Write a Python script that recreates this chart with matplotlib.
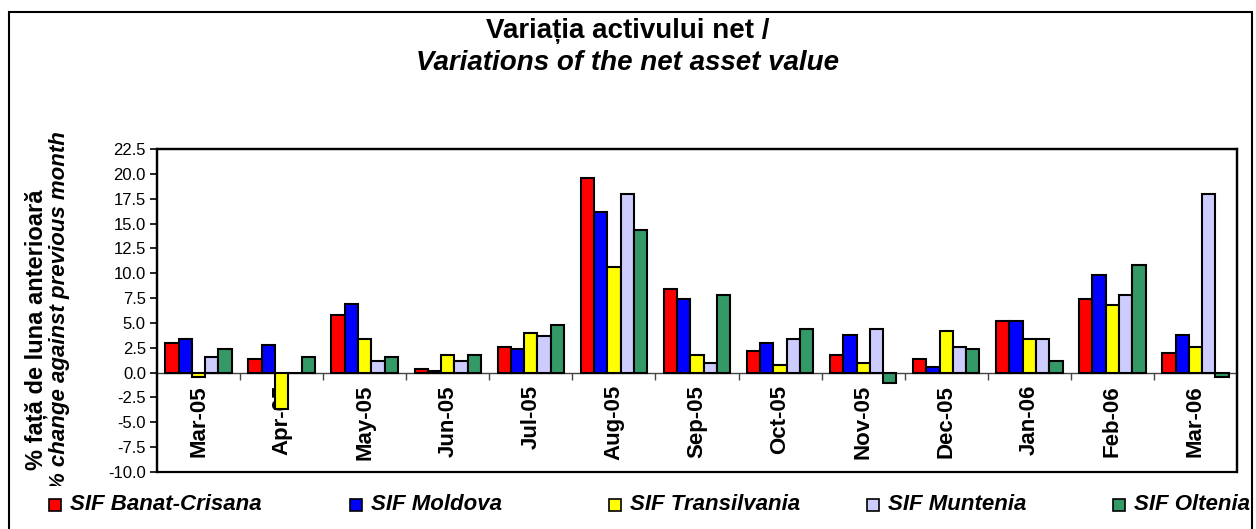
import numpy as np
import matplotlib
matplotlib.use("Agg")
import matplotlib.pyplot as plt
from matplotlib.patches import Rectangle
from matplotlib.transforms import Bbox

months = ["Mar-05", "Apr-05", "May-05", "Jun-05", "Jul-05", "Aug-05", "Sep-05",
          "Oct-05", "Nov-05", "Dec-05", "Jan-06", "Feb-06", "Mar-06"]

banat_crisana = [3.0, 1.4, 5.8, 0.4, 2.6, 19.6, 8.4, 2.2, 1.8, 1.4, 5.2, 7.4, 2.0]
moldova = [3.4, 2.8, 6.9, 0.2, 2.4, 16.2, 7.4, 3.0, 3.8, 0.6, 5.2, 9.8, 3.8]
transilvania = [-0.4, -3.7, 3.4, 1.8, 4.0, 10.6, 1.8, 0.8, 1.0, 4.2, 3.4, 6.8, 2.6]
muntenia = [1.6, 0.0, 1.2, 1.2, 3.7, 18.0, 1.0, 3.4, 4.4, 2.6, 3.4, 7.8, 18.0]
oltenia = [2.4, 1.6, 1.6, 1.8, 4.8, 14.4, 7.8, 4.4, -1.0, 2.4, 1.2, 10.8, -0.4]

series_names = ["SIF Banat-Crisana", "SIF Moldova", "SIF Transilvania",
                "SIF Muntenia", "SIF Oltenia"]
series_values = [banat_crisana, moldova, transilvania, muntenia, oltenia]
colors = ["#FF0000", "#0000FF", "#FFFF00", "#CCCCFF", "#339966"]

plt.rcParams["font.family"] = ["Liberation Sans", "DejaVu Sans"]

W, H = 1256, 529
fig = plt.figure(figsize=(W / 100, H / 100), dpi=100)
ax = fig.add_axes([157 / W, 1 - 472 / H, (1237 - 157) / W, (472 - 149) / H])

x = np.arange(len(months))
bw = 0.16
for i, (vals, c) in enumerate(zip(series_values, colors)):
    ax.bar(x + (i - 2) * bw, vals, bw, color=c, edgecolor="black", linewidth=1.5,
           zorder=3)

ax.set_xlim(-0.5, len(months) - 0.5)
ax.set_ylim(-10, 22.5)
ax.set_yticks(np.arange(-10, 22.51, 2.5))
ax.set_yticklabels([f"{v:.1f}" for v in np.arange(-10, 22.51, 2.5)], fontsize=12)
ax.tick_params(axis="y", direction="out", length=5, width=1.2, pad=3)

# x axis crosses at zero, ticks between categories
ax.spines["bottom"].set_position(("data", 0))
ax.spines["bottom"].set_linewidth(1)
ax.spines["bottom"].set_color("#444444")
for s in ["left", "top", "right"]:
    ax.spines[s].set_linewidth(1.6)
ax.add_patch(Rectangle((0, 0), 1, 1, transform=ax.transAxes, fill=False,
                       edgecolor="black", linewidth=1.6, clip_on=False, zorder=5))
ax.set_xticks(x[:-1] + 0.5)
ax.set_xticklabels([])
ax.tick_params(axis="x", which="major", direction="out", length=5, width=1,
               color="#444444")
ax.set_xticks(x, minor=True)
ax.set_xticklabels(months, minor=True, rotation=90, fontsize=16,
                   fontweight="bold", va="top")
ax.tick_params(axis="x", which="minor", length=0, pad=9)

# title
fig.text(0.5, 1 - 31 / H, "Variația activului net /", ha="center", va="center",
         fontsize=20, fontweight="bold")
fig.text(0.5, 1 - 63 / H, "Variations of the net asset value", ha="center",
         va="center", fontsize=20, fontweight="bold", style="italic")

# y axis title, two lines
fig.text(36 / W, 1 - 330 / H, "% față de luna anterioară", rotation=90,
         ha="center", va="center", fontsize=17, fontweight="bold")
t2 = fig.text(59 / W, 1 - 312 / H, "% change against previous month",
              rotation=90, ha="center", va="center", fontsize=16,
              fontweight="bold", style="italic")
t2.set_clip_box(Bbox([[0, H - 486], [W, H]]))
t2.set_clip_on(True)

# legend
legend_x = [49, 350, 609, 867, 1113]
for lx, name, c in zip(legend_x, series_names, colors):
    fig.add_artist(Rectangle((lx / W, 1 - 511 / H), 12 / W, 12 / H,
                             facecolor=c, edgecolor="black", linewidth=1.2,
                             transform=fig.transFigure))
    fig.text((lx + 21) / W, 1 - 505 / H, name, ha="left", va="center",
             fontsize=16, fontweight="bold", style="italic")

# outer chart frame
fig.add_artist(Rectangle((9 / W, -0.05), (1252 - 9) / W, 1.05 - 12 / H,
                         fill=False, edgecolor="black", linewidth=1.5,
                         transform=fig.transFigure))

fig.savefig("out.png", dpi=100)
